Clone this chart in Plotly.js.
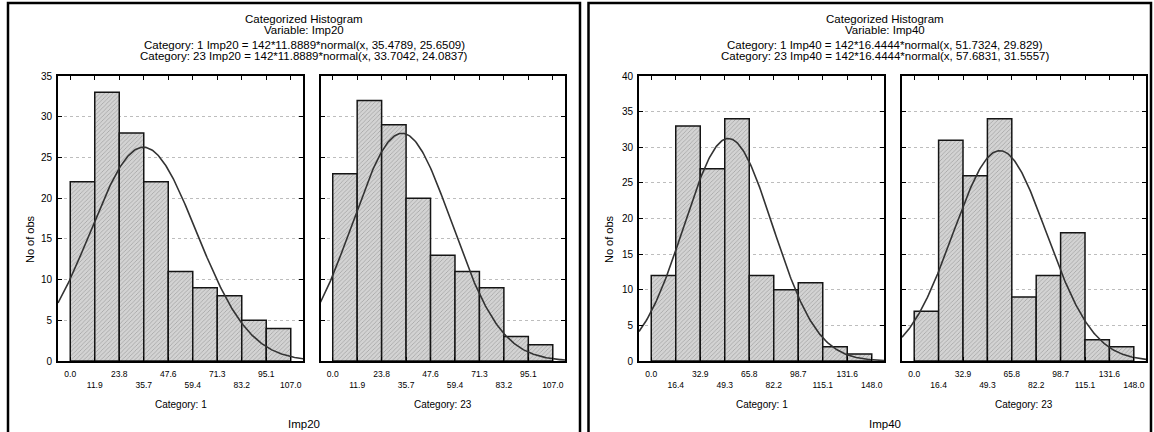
<!DOCTYPE html>
<html><head><meta charset="utf-8">
<script src="https://cdn.plot.ly/plotly-3.0.1.min.js"></script>
<style>html,body{margin:0;padding:0;background:#fff}#chart{width:1154px;height:432px}</style>
</head><body><div id="chart"></div>
<script>
// ---------- data ----------
const nObs = 142;
const categories = ['1', '23'];
const variables = ['Imp20', 'Imp40'];

const imp20BinWidth = 11.8889;
const imp20TickLabels = ['0.0','11.9','23.8','35.7','47.6','59.4','71.3','83.2','95.1','107.0'];
const imp20Cat1Counts = [22, 33, 28, 22, 11, 9, 8, 5, 4];
const imp20Cat23Counts = [23, 32, 29, 20, 13, 11, 9, 3, 2];
const imp20Cat1Fit = [35.4789, 25.6509];   // mean, sd
const imp20Cat23Fit = [33.7042, 24.0837];

const imp40BinWidth = 16.4444;
const imp40TickLabels = ['0.0','16.4','32.9','49.3','65.8','82.2','98.7','115.1','131.6','148.0'];
const imp40Cat1Counts = [12, 33, 27, 34, 12, 10, 11, 2, 1];
const imp40Cat23Counts = [7, 31, 26, 34, 9, 12, 18, 3, 2];
const imp40Cat1Fit = [51.7324, 29.829];
const imp40Cat23Fit = [57.6831, 31.5557];

const imp20YMax = 35, imp40YMax = 40;

// ---------- layout helpers ----------
const W = 1154, H = 432;
const px = v => v / W;
const py = v => 1 - v / H;
const FONT = 'Liberation Sans, Arial, sans-serif';

const panels = [
  {counts: imp20Cat1Counts,  fit: imp20Cat1Fit,  w: imp20BinWidth, labels: imp20TickLabels, ymax: imp20YMax, x0: 58,    x1: 303,   cat: categories[0], ylab: true},
  {counts: imp20Cat23Counts, fit: imp20Cat23Fit, w: imp20BinWidth, labels: imp20TickLabels, ymax: imp20YMax, x0: 320.5, x1: 565,   cat: categories[1], ylab: false},
  {counts: imp40Cat1Counts,  fit: imp40Cat1Fit,  w: imp40BinWidth, labels: imp40TickLabels, ymax: imp40YMax, x0: 639,   x1: 884,   cat: categories[0], ylab: true},
  {counts: imp40Cat23Counts, fit: imp40Cat23Fit, w: imp40BinWidth, labels: imp40TickLabels, ymax: imp40YMax, x0: 902,   x1: 1146,  cat: categories[1], ylab: false}
];
const plotTop = 76, plotBottom = 361;

const traces = [];
const layout = {
  width: W, height: H, autosize: false,
  margin: {l: 0, r: 0, t: 0, b: 0, pad: 0},
  paper_bgcolor: '#fff', plot_bgcolor: '#fff',
  showlegend: false,
  font: {family: FONT, color: '#000'},
  annotations: [], shapes: []
};

panels.forEach((p, i) => {
  const k = i + 1;
  const xa = 'x' + (k === 1 ? '' : k), ya = 'y' + (k === 1 ? '' : k);
  const xr = [-0.5 * p.w, 9.5 * p.w];
  const centers = p.counts.map((c, j) => (j + 0.5) * p.w);
  traces.push({
    type: 'bar', x: centers, y: p.counts, width: p.w,
    xaxis: xa, yaxis: ya,
    marker: {color: '#cacaca', line: {color: '#151515', width: 1.5},
             pattern: {shape: '/', size: 3, solidity: 0.2, fgcolor: '#959595', bgcolor: '#d3d3d3', fillmode: 'replace'}},
    hoverinfo: 'skip'
  });
  // fitted normal curve from the stated formula n*w*normal(x, mean, sd)
  const cx = [], cy = [];
  const steps = 240;
  for (let s = 0; s <= steps; s++) {
    const x = xr[0] + (xr[1] - xr[0]) * s / steps;
    const z = (x - p.fit[0]) / p.fit[1];
    cx.push(x);
    cy.push(nObs * p.w * Math.exp(-0.5 * z * z) / (p.fit[1] * Math.sqrt(2 * Math.PI)));
  }
  traces.push({type: 'scatter', mode: 'lines', x: cx, y: cy, xaxis: xa, yaxis: ya,
               line: {color: '#333', width: 1.6}, hoverinfo: 'skip'});

  const edges = p.labels.map((l, j) => j * p.w);
  const ticktext = p.labels.map((l, j) => j % 2 ? '\u00a0<br>' + l : l);
  layout['xaxis' + (k === 1 ? '' : k)] = {
    domain: [px(p.x0), px(p.x1)], anchor: ya, range: xr,
    tickmode: 'array', tickvals: edges, ticktext: ticktext,
    ticks: 'inside', ticklen: 4, tickwidth: 1, tickcolor: '#000',
    showline: true, linewidth: 2, linecolor: '#000', mirror: 'ticks',
    showgrid: false, zeroline: false,
    tickfont: {size: 8.5, family: FONT, color: '#000'},
    ticklabelstandoff: 4, fixedrange: true
  };
  layout['yaxis' + (k === 1 ? '' : k)] = {
    domain: [py(plotBottom), py(plotTop)], anchor: xa, range: [0, p.ymax],
    tickmode: 'linear', tick0: 0, dtick: 5,
    ticks: 'inside', ticklen: 4, tickwidth: 1, tickcolor: '#000',
    showline: true, linewidth: 2, linecolor: '#000', mirror: 'ticks',
    showgrid: true, gridcolor: '#bdbdbd', griddash: 'dot', gridwidth: 1,
    zeroline: false, showticklabels: p.ylab,
    tickfont: {size: 10, family: FONT, color: '#000'},
    ticklabelstandoff: 2, fixedrange: true
  };
  layout.annotations.push({
    text: 'Category: ' + p.cat, xref: 'paper', yref: 'paper',
    x: px((p.x0 + p.x1) / 2), y: py(404.5), xanchor: 'center', yanchor: 'middle',
    showarrow: false, font: {size: 10, family: FONT, color: '#000'}
  });
});

// Frames and titles for the two figures
const groups = [
  {v: variables[0], fits: [imp20Cat1Fit, imp20Cat23Fit], w: imp20BinWidth, cx: 304, f0: 8, f1: 580, ylx: 30},
  {v: variables[1], fits: [imp40Cat1Fit, imp40Cat23Fit], w: imp40BinWidth, cx: 885, f0: 588.5, f1: 1151, ylx: 609}
];
groups.forEach(g => {
  layout.shapes.push({type: 'rect', xref: 'paper', yref: 'paper',
    x0: px(g.f0), x1: px(g.f1), y0: py(445), y1: py(3),
    line: {color: '#000', width: 2.5}, fillcolor: 'rgba(0,0,0,0)', layer: 'above'});
  const lines = [
    {t: 'Categorized Histogram', y: 18.7},
    {t: 'Variable: ' + g.v, y: 30.3},
    {t: 'Category: ' + categories[0] + ' ' + g.v + ' = ' + nObs + '*' + g.w + '*normal(x, ' + g.fits[0][0] + ', ' + g.fits[0][1] + ')', y: 45.3},
    {t: 'Category: ' + categories[1] + ' ' + g.v + ' = ' + nObs + '*' + g.w + '*normal(x, ' + g.fits[1][0] + ', ' + g.fits[1][1] + ')', y: 56}
  ];
  lines.forEach(l => layout.annotations.push({
    text: l.t, xref: 'paper', yref: 'paper', x: px(g.cx), y: py(l.y),
    xanchor: 'center', yanchor: 'middle', showarrow: false,
    font: {size: 11.5, family: FONT, color: '#000'}
  }));
  layout.annotations.push({
    text: g.v, xref: 'paper', yref: 'paper', x: px(g.cx), y: py(424),
    xanchor: 'center', yanchor: 'middle', showarrow: false,
    font: {size: 11.5, family: FONT, color: '#000'}
  });
  layout.annotations.push({
    text: 'No of obs', xref: 'paper', yref: 'paper', x: px(g.ylx), y: py(239),
    xanchor: 'center', yanchor: 'middle', showarrow: false, textangle: -90,
    font: {size: 11, family: FONT, color: '#000'}
  });
});

Plotly.newPlot('chart', traces, layout, {displayModeBar: false, staticPlot: true});
</script>
</body></html>
